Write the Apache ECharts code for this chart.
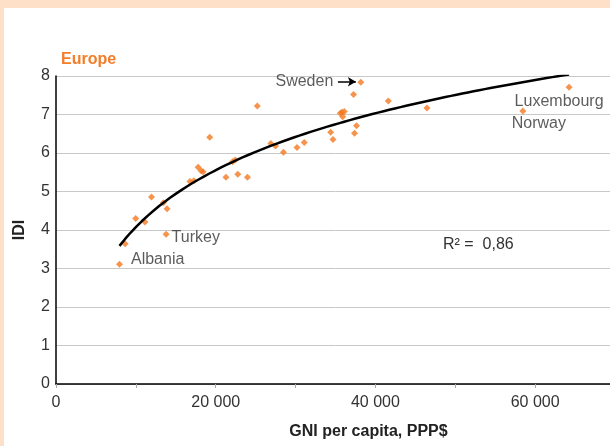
<!DOCTYPE html>
<html>
<head>
<meta charset="utf-8">
<script src="https://cdn.jsdelivr.net/npm/echarts@6/dist/echarts.min.js"></script>
<style>
  html, body { margin: 0; padding: 0; background: #fee0c8; width: 610px; height: 446px; overflow: hidden; }
  #idiChart { position: absolute; left: 4px; top: 8px; width: 630px; height: 438px; background: #fff; }
</style>
</head>
<body>
<div id="idiChart"></div>
<script>
// GNI per capita (PPP$) and IDI, Europe
var gniEurope = [7950, 8660, 9980, 11140, 11960, 13450, 13910, 13790, 16770, 17260,
                 17800, 18170, 18420, 19250, 21280, 22110, 22440, 22770, 23970, 25210,
                 26910, 27490, 28480, 30180, 31090, 34400, 34690, 35600, 35800, 36100,
                 35900, 37380, 37630, 37260, 38170, 41610, 46450, 58460, 64250];
var idiEurope = [3.11, 3.64, 4.30, 4.21, 4.86, 4.71, 4.55, 3.89, 5.26, 5.28,
                 5.63, 5.54, 5.51, 6.41, 5.37, 5.77, 5.82, 5.45, 5.37, 7.22,
                 6.25, 6.18, 6.02, 6.14, 6.27, 6.54, 6.35, 7.03, 7.06, 7.08,
                 6.94, 6.51, 6.71, 7.52, 7.84, 7.35, 7.17, 7.09, 7.71];
var countryNames = {0: 'Albania', 7: 'Turkey', 34: 'Sweden', 37: 'Norway', 38: 'Luxembourg'};
var yTicks = [0, 1, 2, 3, 4, 5, 6, 7, 8];
var xTicks = [0, 20000, 40000, 60000];
var r2Text = 'R² =  0,86';

var labelStyle = {
    Albania: {position: 'right', distance: 8, offset: [0, -5]},
    Turkey: {position: 'right', distance: 2, offset: [0, 3]},
    Sweden: {position: 'left', distance: 24, offset: [0, -1]},
    Norway: {position: 'inside', offset: [16, 13]},
    Luxembourg: {position: 'inside', offset: [-10, 14]}
};

var points = gniEurope.map(function (g, i) {
    var item = {value: [g, idiEurope[i]]};
    var nm = countryNames[i];
    if (nm) {
        item.label = Object.assign({
            show: true, formatter: nm, color: '#333', fontSize: 16,
            fontFamily: 'Liberation Sans, Arial, sans-serif'
        }, labelStyle[nm]);
    }
    return item;
});

// logarithmic trend line fitted to the points (least squares on ln x)
var n = gniEurope.length, sx = 0, sy = 0, sxx = 0, sxy = 0;
for (var i = 0; i < n; i++) {
    var lx = Math.log(gniEurope[i]);
    sx += lx; sy += idiEurope[i]; sxx += lx * lx; sxy += lx * idiEurope[i];
}
var slope = (n * sxy - sx * sy) / (n * sxx - sx * sx);
var icpt = (sy - slope * sx) / n;
var xMin = Math.min.apply(null, gniEurope), xMax = Math.max.apply(null, gniEurope);
var trend = [];
for (var k = 0; k <= 80; k++) {
    var xv = xMin + (xMax - xMin) * k / 80;
    trend.push([xv, slope * Math.log(xv) + icpt]);
}

var fmtNum = function (v) {
    return String(v).replace(/\B(?=(\d{3})+(?!\d))/g, ' ');
};

var chart = echarts.init(document.getElementById('idiChart'));
var font = 'Liberation Sans, Arial, sans-serif';
option = {
    animation: false,
    title: {
        text: 'Europe', left: 52, top: 39,
        textStyle: {color: '#f47d2a', fontSize: 16, fontWeight: 'bold', fontFamily: font}
    },
    grid: {left: 47.5, top: 68, width: 563.5, height: 308},
    xAxis: {
        type: 'value', min: 0, max: 70000, interval: 10000,
        name: 'GNI per capita, PPP$', nameLocation: 'middle', nameGap: 40,
        nameTextStyle: {color: '#222', fontSize: 16, fontWeight: 'bold', fontFamily: font, padding: [0, 0, 0, 66]},
        axisLine: {lineStyle: {color: '#000', width: 1.5}},
        axisTick: {show: true, length: 4, lineStyle: {color: '#aaa'}},
        axisLabel: {
            color: '#333', fontSize: 16, fontFamily: font, margin: 11,
            formatter: function (v) { return xTicks.indexOf(v) >= 0 ? fmtNum(v) : ''; }
        },
        splitLine: {show: false}
    },
    yAxis: {
        type: 'value', min: yTicks[0], max: yTicks[yTicks.length - 1], interval: 1,
        name: 'IDI', nameLocation: 'middle', nameGap: 28,
        nameTextStyle: {color: '#222', fontSize: 16, fontWeight: 'bold', fontFamily: font},
        axisLine: {show: true, lineStyle: {color: '#000', width: 1.5}},
        axisTick: {show: false},
        axisLabel: {color: '#333', fontSize: 16, fontFamily: font, margin: 6},
        splitLine: {lineStyle: {color: '#c8c8c8'}}
    },
    graphic: [{
        type: 'text', left: 439, top: 229,
        style: {text: r2Text, fill: '#333', fontSize: 16, fontFamily: font}
    }],
    series: [
        {
            type: 'scatter', data: points, symbol: 'diamond', symbolSize: 7,
            itemStyle: {color: '#f47920'}, z: 3,
            markLine: {
                silent: true, symbol: ['none', 'arrow'], symbolSize: [7, 8],
                lineStyle: {color: '#000', width: 1.5, type: 'solid'},
                label: {show: false},
                data: [[{coord: [35300, 7.85]}, {coord: [37550, 7.85]}]]
            }
        },
        {
            type: 'line', data: trend, showSymbol: false, symbol: 'none',
            lineStyle: {color: '#000', width: 2.5}, z: 4
        }
    ]
};
chart.setOption(option);
</script>
</body>
</html>
